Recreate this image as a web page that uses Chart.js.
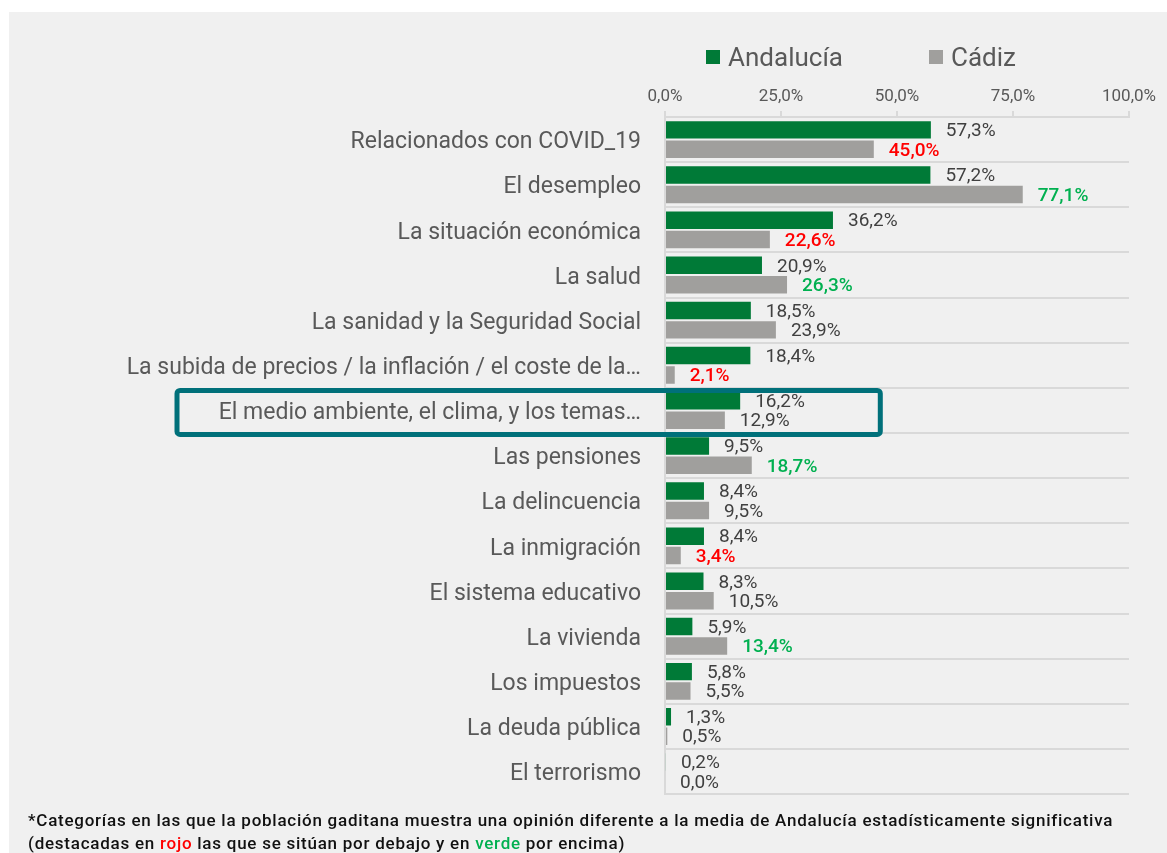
<!DOCTYPE html>
<html lang="es">
<head>
    <meta charset="UTF-8">
    <title>Problemas principales - Andalucía / Cádiz</title>
    <script src="https://cdn.jsdelivr.net/npm/chart.js@4.4.1/dist/chart.umd.min.js"></script>
    <style>
        html, body { margin: 0; padding: 0; background: #ffffff; }
        body { width: 1167px; height: 853px; overflow: hidden; font-family: Roboto, "DejaVu Sans", sans-serif; }
        .panel { position: absolute; left: 9px; top: 12px; width: 1158px; height: 841px; background: #f0f0f0; }
        .chart-box { position: absolute; left: 0; top: 0; width: 1158px; height: 820px; }
        .leyenda { position: absolute; top: 30px; left: 697px; display: flex; align-items: center; font-size: 26px; color: #595959; }
        .leyenda span.cuadro { display: inline-block; width: 14px; height: 14px; margin-right: 8px; }
        .leyenda .item { display: flex; align-items: center; margin-right: 86px; }
        .nota { position: absolute; left: 19px; top: 797px; font-size: 17px; letter-spacing: 0.75px; line-height: 23px; color: #111; font-weight: 500; }
        .rojo { color: #ff0000; }
        .verde { color: #00b050; }
    </style>
</head>
<body>
<div class="panel">
    <div class="chart-box"><canvas id="grafico"></canvas></div>
    <div class="leyenda">
        <div class="item"><span class="cuadro" style="background:#007a37"></span>Andalucía</div>
        <div class="item"><span class="cuadro" style="background:#a09f9d"></span>Cádiz</div>
    </div>
    <div class="nota">
        *Categorías en las que la población gaditana muestra una opinión diferente a la media de Andalucía estadísticamente significativa<br>
        (destacadas en <span class="rojo">rojo</span> las que se sitúan por debajo y en <span class="verde">verde</span> por encima)
    </div>
</div>

<script>
    const categorias = [
        'Relacionados con COVID_19',
        'El desempleo',
        'La situación económica',
        'La salud',
        'La sanidad y la Seguridad Social',
        'La subida de precios / la inflación / el coste de la…',
        'El medio ambiente, el clima, y los temas…',
        'Las pensiones',
        'La delincuencia',
        'La inmigración',
        'El sistema educativo',
        'La vivienda',
        'Los impuestos',
        'La deuda pública',
        'El terrorismo'
    ];
    const andalucia = [57.3, 57.2, 36.2, 20.9, 18.5, 18.4, 16.2, 9.5, 8.4, 8.4, 8.3, 5.9, 5.8, 1.3, 0.2];
    const cadiz = [45.0, 77.1, 22.6, 26.3, 23.9, 2.1, 12.9, 18.7, 9.5, 3.4, 10.5, 13.4, 5.5, 0.5, 0.0];
    // 'bajo' = rojo (por debajo), 'alto' = verde (por encima), '' = sin diferencia significativa
    const significativo = ['bajo', 'alto', 'bajo', 'alto', '', 'bajo', '', 'alto', '', 'bajo', '', 'alto', '', '', ''];
    const ticksEje = [0, 25, 50, 75, 100];
    const categoriaDestacada = 6;

    const formatoPct = v => v.toFixed(1).replace('.', ',') + '%';

    // Etiquetas de valor al final de cada barra
    const etiquetasPlugin = {
        id: 'etiquetas',
        afterDatasetsDraw(chart) {
            const ctx = chart.ctx;
            ctx.save();
            ctx.textAlign = 'left';
            ctx.textBaseline = 'middle';
            chart.data.datasets.forEach((ds, di) => {
                const meta = chart.getDatasetMeta(di);
                meta.data.forEach((bar, i) => {
                    let color = '#404040';
                    let peso = '400';
                    if (di === 1 && significativo[i] === 'bajo') { color = '#ff0000'; peso = '500'; }
                    if (di === 1 && significativo[i] === 'alto') { color = '#00b050'; peso = '500'; }
                    ctx.font = peso + ' 19px Roboto, "DejaVu Sans", sans-serif';
                    ctx.fillStyle = color;
                    ctx.fillText(formatoPct(ds.data[i]), bar.x + 15, bar.y + 1.5);
                });
            });
            ctx.restore();
        }
    };

    // Recuadro que destaca una categoría
    const recuadroPlugin = {
        id: 'recuadro',
        afterDraw(chart) {
            const ctx = chart.ctx;
            const y = chart.scales.y;
            const x = chart.scales.x;
            const centro = y.getPixelForValue(categoriaDestacada) + 2;
            const alto = 44;
            const izq = chart.chartArea.left - 488;
            const der = x.getPixelForValue(46.4);
            ctx.save();
            ctx.strokeStyle = '#00707a';
            ctx.lineWidth = 5;
            ctx.beginPath();
            ctx.roundRect(izq, centro - alto / 2, der - izq, alto, 3);
            ctx.stroke();
            ctx.restore();
        }
    };

    new Chart(document.getElementById('grafico'), {
        type: 'bar',
        data: {
            labels: categorias,
            datasets: [
                {
                    label: 'Andalucía',
                    data: andalucia,
                    backgroundColor: '#007a37',
                    categoryPercentage: 0.86,
                    barPercentage: 0.9
                },
                {
                    label: 'Cádiz',
                    data: cadiz,
                    backgroundColor: '#a09f9d',
                    categoryPercentage: 0.86,
                    barPercentage: 0.9
                }
            ]
        },
        options: {
            indexAxis: 'y',
            responsive: true,
            maintainAspectRatio: false,
            animation: false,
            layout: { padding: { top: 0, right: 38, bottom: 9, left: 0 } },
            scales: {
                x: {
                    position: 'top',
                    min: 0,
                    max: 100,
                    afterBuildTicks(scale) {
                        scale.ticks = ticksEje.map(v => ({ value: v }));
                    },
                    afterFit(scale) { scale.height = 105; },
                    ticks: {
                        padding: 4,
                        color: '#595959',
                        font: { family: 'Roboto', size: 17 },
                        callback: v => formatoPct(v)
                    },
                    grid: { drawOnChartArea: false, drawTicks: true, tickLength: 6, color: '#d9d9d9', lineWidth: 2 },
                    border: { color: '#d9d9d9', width: 2 }
                },
                y: {
                    afterFit(scale) { scale.width = 656; },
                    ticks: {
                        padding: 24,
                        labelOffset: 3,
                        color: '#595959',
                        font: { family: 'Roboto', size: 23 }
                    },
                    grid: { color: '#d9d9d9', lineWidth: 2, drawTicks: false },
                    border: { color: '#d9d9d9', width: 2 }
                }
            },
            plugins: {
                legend: { display: false },
                tooltip: { enabled: false }
            }
        },
        plugins: [etiquetasPlugin, recuadroPlugin]
    });
</script>
</body>
</html>
